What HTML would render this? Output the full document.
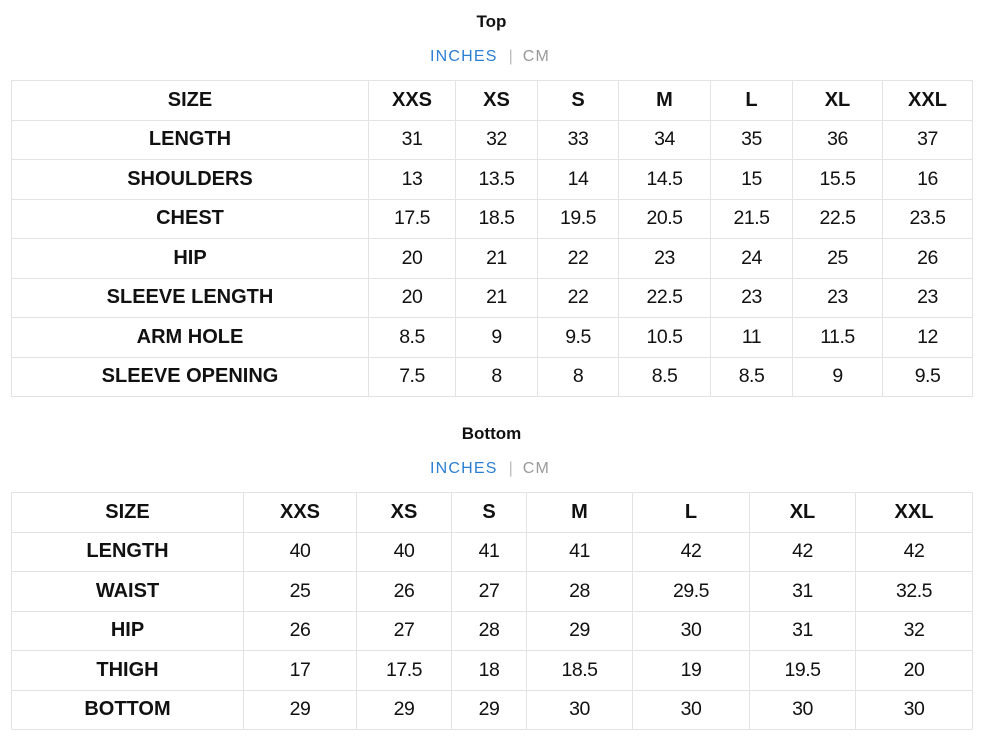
<!DOCTYPE html>
<html><head><meta charset="utf-8"><style>
body{margin:0;background:#fff;font-family:"Liberation Sans",Arial,sans-serif;color:#111;width:986px;height:750px;position:relative;overflow:hidden}
.t{position:absolute;left:0;width:983px;text-align:center;font-weight:bold;font-size:17px}
.u{position:absolute;left:0;width:980px;text-align:center;font-size:16px;letter-spacing:1.2px}
.u .a{color:#2b7fd3}.u .s{color:#bbb;margin:0 10px 0 11px;letter-spacing:0}.u .c{color:#999}
table{position:absolute;border-collapse:collapse;table-layout:fixed}
td{border:1px solid #e3e3e3;text-align:center;height:38.5px;padding:0;font-size:19.5px;letter-spacing:-0.5px}
td:first-child,tr:first-child td{font-weight:bold;font-size:20px;letter-spacing:0}
</style></head><body>
<div class="t" style="top:12px">Top</div>
<div class="u" style="top:48px"><span class="a">INCHES</span><span class="s">|</span><span class="c">CM</span></div>
<table style="left:11px;top:80px;width:961px">
<colgroup><col style="width:357px"><col style="width:87px"><col style="width:82px"><col style="width:81px"><col style="width:92px"><col style="width:82px"><col style="width:90px"><col style="width:90px"></colgroup>
<tr><td>SIZE</td><td>XXS</td><td>XS</td><td>S</td><td>M</td><td>L</td><td>XL</td><td>XXL</td></tr>
<tr><td>LENGTH</td><td>31</td><td>32</td><td>33</td><td>34</td><td>35</td><td>36</td><td>37</td></tr>
<tr><td>SHOULDERS</td><td>13</td><td>13.5</td><td>14</td><td>14.5</td><td>15</td><td>15.5</td><td>16</td></tr>
<tr><td>CHEST</td><td>17.5</td><td>18.5</td><td>19.5</td><td>20.5</td><td>21.5</td><td>22.5</td><td>23.5</td></tr>
<tr><td>HIP</td><td>20</td><td>21</td><td>22</td><td>23</td><td>24</td><td>25</td><td>26</td></tr>
<tr><td>SLEEVE LENGTH</td><td>20</td><td>21</td><td>22</td><td>22.5</td><td>23</td><td>23</td><td>23</td></tr>
<tr><td>ARM HOLE</td><td>8.5</td><td>9</td><td>9.5</td><td>10.5</td><td>11</td><td>11.5</td><td>12</td></tr>
<tr><td>SLEEVE OPENING</td><td>7.5</td><td>8</td><td>8</td><td>8.5</td><td>8.5</td><td>9</td><td>9.5</td></tr>
</table>
<div class="t" style="top:424px">Bottom</div>
<div class="u" style="top:460px"><span class="a">INCHES</span><span class="s">|</span><span class="c">CM</span></div>
<table style="left:11px;top:492px;width:961px">
<colgroup><col style="width:232px"><col style="width:113px"><col style="width:95px"><col style="width:75px"><col style="width:106px"><col style="width:117px"><col style="width:106px"><col style="width:117px"></colgroup>
<tr><td>SIZE</td><td>XXS</td><td>XS</td><td>S</td><td>M</td><td>L</td><td>XL</td><td>XXL</td></tr>
<tr><td>LENGTH</td><td>40</td><td>40</td><td>41</td><td>41</td><td>42</td><td>42</td><td>42</td></tr>
<tr><td>WAIST</td><td>25</td><td>26</td><td>27</td><td>28</td><td>29.5</td><td>31</td><td>32.5</td></tr>
<tr><td>HIP</td><td>26</td><td>27</td><td>28</td><td>29</td><td>30</td><td>31</td><td>32</td></tr>
<tr><td>THIGH</td><td>17</td><td>17.5</td><td>18</td><td>18.5</td><td>19</td><td>19.5</td><td>20</td></tr>
<tr><td>BOTTOM</td><td>29</td><td>29</td><td>29</td><td>30</td><td>30</td><td>30</td><td>30</td></tr>
</table>
</body></html>
